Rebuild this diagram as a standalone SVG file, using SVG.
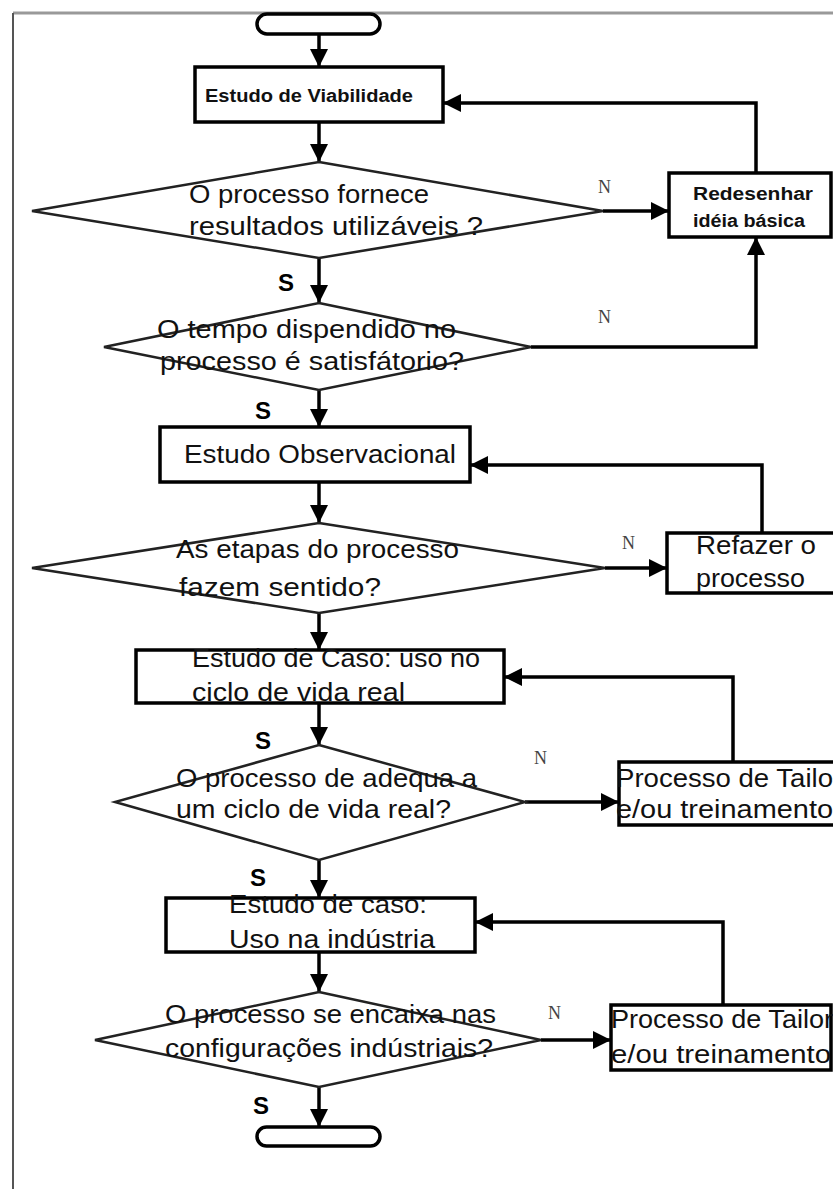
<svg xmlns="http://www.w3.org/2000/svg" width="833" height="1189" viewBox="0 0 833 1189">
<defs>
<style>
.bg{fill:#fff}
.frame{stroke:#555;stroke-width:2;fill:none}
.frameTop{stroke:#999;stroke-width:3;fill:none}
.box{fill:#fff;stroke:#000;stroke-width:3.5}
.dia{fill:#fff;stroke:#222;stroke-width:2.5}
.term{fill:#fff;stroke:#000;stroke-width:3.5}
.con{fill:none;stroke:#000;stroke-width:3.5;marker-end:url(#ah)}
.t{font-family:"Liberation Sans Narrow","Liberation Sans",Arial,sans-serif;fill:#111;font-size:25px}
.ts{font-family:"Liberation Sans Narrow","Liberation Sans",Arial,sans-serif;fill:#111;font-size:18px;font-weight:bold}
.s{font-family:"Liberation Sans Narrow","Liberation Sans",Arial,sans-serif;fill:#000;font-size:24px;font-weight:bold}
.n{font-family:"Liberation Serif","Times New Roman",serif;fill:#444;font-size:18px}
</style>
<marker id="ah" markerUnits="userSpaceOnUse" markerWidth="20" markerHeight="18" refX="18" refY="9" orient="auto">
<path d="M0,0 L18,9 L0,18 Z" fill="#000"/>
</marker>
</defs>
<rect class="bg" x="0" y="0" width="833" height="1189"/>
<g id="frame">
<line class="frameTop" x1="13" y1="13" x2="833" y2="13"/>
<line class="frame" x1="13" y1="13" x2="13" y2="1189"/>
</g>
<g id="connectors">
<line class="con" x1="319" y1="33" x2="319" y2="67"/>
<line class="con" x1="319" y1="122" x2="319" y2="162"/>
<line class="con" x1="319" y1="258" x2="319" y2="303"/>
<line class="con" x1="319" y1="390" x2="319" y2="427"/>
<line class="con" x1="319" y1="482" x2="319" y2="523"/>
<line class="con" x1="319" y1="613" x2="319" y2="650"/>
<line class="con" x1="319" y1="703" x2="319" y2="745"/>
<line class="con" x1="319" y1="860" x2="319" y2="898"/>
<line class="con" x1="319" y1="952" x2="319" y2="992"/>
<line class="con" x1="319" y1="1087" x2="319" y2="1127"/>
<line class="con" x1="603" y1="211" x2="669" y2="211"/>
<polyline class="con" points="756,173 756,103 443,103"/>
<polyline class="con" points="531,347 756,347 756,237"/>
<polyline class="con" points="762,533 762,465 470,465"/>
<line class="con" x1="605" y1="568" x2="667" y2="568"/>
<polyline class="con" points="733,762 733,677 504,677"/>
<line class="con" x1="525" y1="802" x2="619" y2="802"/>
<polyline class="con" points="723,1005 723,922 475,922"/>
<line class="con" x1="541" y1="1040" x2="611" y2="1040"/>
</g>
<g id="start"><rect class="term" x="257" y="14" width="123" height="20" rx="10"/></g>
<g id="viabilidade">
<rect class="box" x="195" y="67" width="248" height="55"/>
<text class="ts" x="205" y="102" textLength="208" lengthAdjust="spacingAndGlyphs">Estudo de Viabilidade</text>
</g>
<g id="d1">
<polygon class="dia" points="319,162 603,211 319,258 32,211"/>
<text class="t" x="189" y="203" textLength="240" lengthAdjust="spacingAndGlyphs">O processo fornece</text>
<text class="t" x="189" y="235" textLength="294" lengthAdjust="spacingAndGlyphs">resultados  utilizáveis ?</text>
</g>
<g id="redesenhar">
<rect class="box" x="669" y="173" width="162" height="64"/>
<text class="ts" x="693" y="200" textLength="120" lengthAdjust="spacingAndGlyphs">Redesenhar</text>
<text class="ts" x="693" y="227" textLength="112" lengthAdjust="spacingAndGlyphs">idéia básica</text>
</g>
<g id="d2">
<polygon class="dia" points="319,303 531,347 319,390 104,347"/>
<text class="t" x="157" y="338" textLength="299" lengthAdjust="spacingAndGlyphs">O tempo dispendido no</text>
<text class="t" x="160" y="370" textLength="304" lengthAdjust="spacingAndGlyphs">processo é satisfátorio?</text>
</g>
<g id="observacional">
<rect class="box" x="160" y="427" width="310" height="55"/>
<text class="t" x="184" y="463" textLength="272" lengthAdjust="spacingAndGlyphs">Estudo Observacional</text>
</g>
<g id="d3">
<polygon class="dia" points="319,523 605,568 319,613 32,568"/>
<text class="t" x="176" y="558" textLength="283" lengthAdjust="spacingAndGlyphs">As etapas do processo</text>
<text class="t" x="179" y="596" textLength="202" lengthAdjust="spacingAndGlyphs">fazem sentido?</text>
</g>
<g id="refazer">
<rect class="box" x="667" y="533" width="170" height="60"/>
<text class="t" x="696" y="554" textLength="120" lengthAdjust="spacingAndGlyphs">Refazer o</text>
<text class="t" x="696" y="587" textLength="109" lengthAdjust="spacingAndGlyphs">processo</text>
</g>
<g id="caso1">
<rect class="box" x="136" y="650" width="368" height="53"/>
<text class="t" x="192" y="667" textLength="288" lengthAdjust="spacingAndGlyphs">Estudo de Caso: uso no</text>
<text class="t" x="192" y="701" textLength="213" lengthAdjust="spacingAndGlyphs">ciclo de vida real</text>
</g>
<g id="d4">
<polygon class="dia" points="319,745 525,802 319,860 115,802"/>
<text class="t" x="176" y="787" textLength="301" lengthAdjust="spacingAndGlyphs">O processo de adequa a</text>
<text class="t" x="176" y="818" textLength="275" lengthAdjust="spacingAndGlyphs">um ciclo de vida real?</text>
</g>
<g id="tailoring1">
<rect class="box" x="619" y="762" width="217" height="63"/>
<text class="t" x="616" y="787" textLength="217" lengthAdjust="spacingAndGlyphs">Processo de Tailo</text>
<text class="t" x="616" y="818" textLength="217" lengthAdjust="spacingAndGlyphs">e/ou treinamento</text>
</g>
<g id="caso2">
<rect class="box" x="166" y="898" width="309" height="54"/>
<text class="t" x="229" y="913" textLength="198" lengthAdjust="spacingAndGlyphs">Estudo de caso:</text>
<text class="t" x="229" y="948" textLength="206" lengthAdjust="spacingAndGlyphs">Uso na indústria</text>
</g>
<g id="d5">
<polygon class="dia" points="319,992 541,1040 319,1087 95,1040"/>
<text class="t" x="165" y="1023" textLength="331" lengthAdjust="spacingAndGlyphs">O processo se encaixa nas</text>
<text class="t" x="165" y="1057" textLength="328" lengthAdjust="spacingAndGlyphs">configurações indústriais?</text>
</g>
<g id="tailoring2">
<rect class="box" x="611" y="1005" width="220" height="65"/>
<text class="t" x="611" y="1028" textLength="222" lengthAdjust="spacingAndGlyphs">Processo de Tailor</text>
<text class="t" x="611" y="1063" textLength="220" lengthAdjust="spacingAndGlyphs">e/ou treinamento</text>
</g>
<g id="end"><rect class="term" x="257" y="1127" width="123" height="19" rx="9.5"/></g>
<g id="labels">
<text class="n" x="598" y="193">N</text>
<text class="n" x="598" y="323">N</text>
<text class="n" x="622" y="549">N</text>
<text class="n" x="534" y="764">N</text>
<text class="n" x="548" y="1019">N</text>
<text class="s" x="278" y="291">S</text>
<text class="s" x="255" y="419">S</text>
<text class="s" x="255" y="749">S</text>
<text class="s" x="250" y="886">S</text>
<text class="s" x="253" y="1114">S</text>
</g>
</svg>
